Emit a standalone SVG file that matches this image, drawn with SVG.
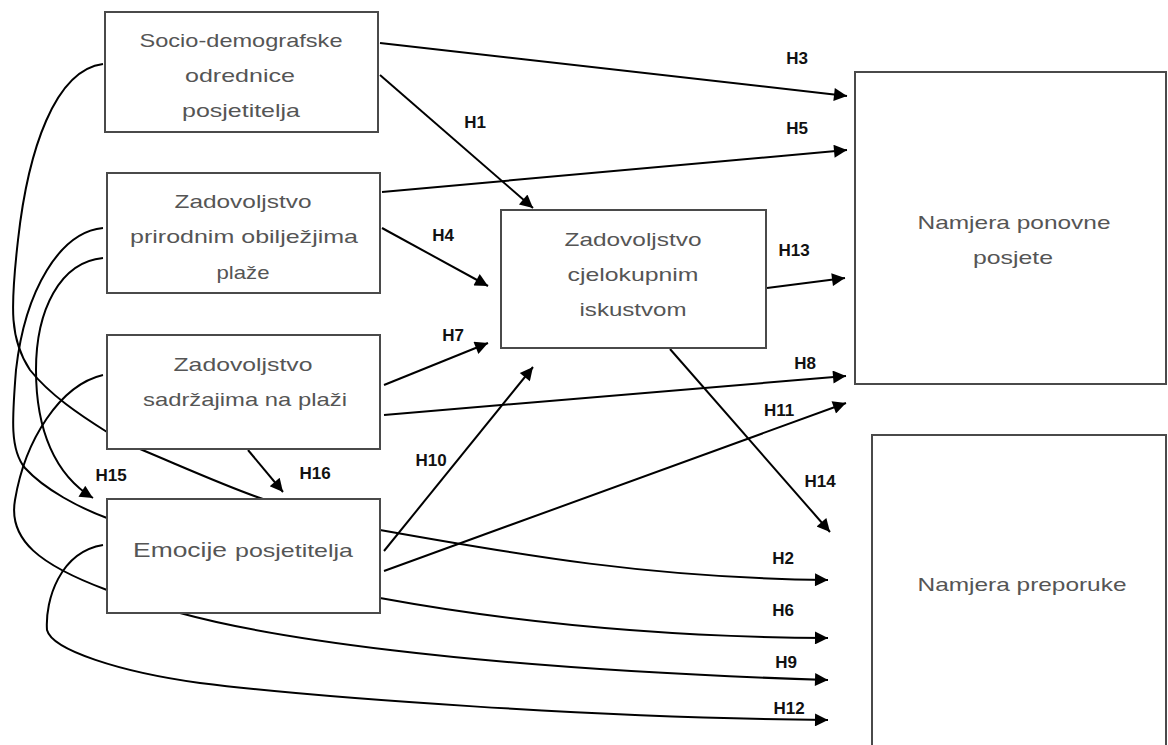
<svg xmlns="http://www.w3.org/2000/svg" width="1168" height="745" viewBox="0 0 1168 745">
<style>
.box{fill:#fff;stroke:#4a4a4a;stroke-width:2}
.t{font-family:"Liberation Sans",Arial,sans-serif;font-size:19px;fill:#555;text-anchor:middle}
.lbl{font-family:"Liberation Sans",Arial,sans-serif;font-size:17px;font-weight:bold;fill:#111;text-anchor:middle}
.c{fill:none;stroke:#000;stroke-width:2;marker-end:url(#ah)}
</style>
<defs>
<marker id="ah" viewBox="0 0 10 10" refX="10" refY="5" markerWidth="8" markerHeight="6.5" orient="auto" markerUnits="strokeWidth">
<path d="M0,0 L10,5 L0,10 z" fill="#000"/>
</marker>
</defs>
<rect width="1168" height="745" fill="#fff"/>
<g id="connectors">
<path class="c" d="M380,43 L847,96"/>
<path class="c" d="M380,75 L533,208"/>
<path class="c" d="M382,192 L847,150"/>
<path class="c" d="M382,228 L488,286"/>
<path class="c" d="M767,288 L845,278"/>
<path class="c" d="M384,385 L488,343"/>
<path class="c" d="M384,415 L846,376"/>
<path class="c" d="M384,551 L533,367"/>
<path class="c" d="M384,571 L846,403"/>
<path class="c" d="M670,349 L830,532"/>
<path class="c" d="M248,450 L283,492"/>
<path class="c" d="M103,258 C60,262 36,310 36,370 C36,430 55,475 93,498"/>
<path class="c" d="M103,64 C55,70 28,150 18,240 C10,310 10,340 30,370 C50,395 80,415 107,432 L140,449 C190,470 230,488 263,499 L380,530 C520,555 650,578 828,580"/>
<path class="c" d="M103,228 C60,232 25,290 16,370 C12,420 10,450 25,468 C45,490 80,508 107,518 L380,598 C500,620 650,637 828,638"/>
<path class="c" d="M103,375 C60,385 25,440 15,500 C8,540 40,565 107,590 L180,613 C260,635 450,668 828,680"/>
<path class="c" d="M103,545 C60,552 45,600 47,630 C52,650 120,672 200,683 C320,698 600,718 828,720"/>
</g>
<g id="n1"><rect class="box" x="105" y="12" width="273" height="120"/>
<text class="t" x="241" y="47" textLength="203" lengthAdjust="spacingAndGlyphs">Socio-demografske</text>
<text class="t" x="240" y="82" textLength="110" lengthAdjust="spacingAndGlyphs">odrednice</text>
<text class="t" x="241" y="117" textLength="118" lengthAdjust="spacingAndGlyphs">posjetitelja</text></g>
<g id="n2"><rect class="box" x="107" y="173" width="273" height="120"/>
<text class="t" x="243" y="208" textLength="137" lengthAdjust="spacingAndGlyphs">Zadovoljstvo</text>
<text class="t" x="244" y="243" textLength="228" lengthAdjust="spacingAndGlyphs">prirodnim obilježjima</text>
<text class="t" x="243" y="279" textLength="53" lengthAdjust="spacingAndGlyphs">plaže</text></g>
<g id="n3"><rect class="box" x="107" y="335" width="273" height="114"/>
<text class="t" x="243" y="371" textLength="139" lengthAdjust="spacingAndGlyphs">Zadovoljstvo</text>
<text class="t" x="245" y="406" textLength="204" lengthAdjust="spacingAndGlyphs">sadržajima na plaži</text></g>
<g id="n4"><rect class="box" x="107" y="499" width="273" height="114"/>
<text class="t" x="180" y="557" style="font-size:21px" textLength="94" lengthAdjust="spacingAndGlyphs">Emocije</text>
<text class="t" x="294" y="557" textLength="118" lengthAdjust="spacingAndGlyphs">posjetitelja</text></g>
<g id="n5"><rect class="box" x="501" y="210" width="265" height="138"/>
<text class="t" x="633" y="246" textLength="137" lengthAdjust="spacingAndGlyphs">Zadovoljstvo</text>
<text class="t" x="633" y="281" textLength="131" lengthAdjust="spacingAndGlyphs">cjelokupnim</text>
<text class="t" x="633" y="316" textLength="107" lengthAdjust="spacingAndGlyphs">iskustvom</text></g>
<g id="n6"><rect class="box" x="855" y="72" width="311" height="312"/>
<text class="t" x="1014" y="229" textLength="193" lengthAdjust="spacingAndGlyphs">Namjera ponovne</text>
<text class="t" x="1013" y="264" textLength="80" lengthAdjust="spacingAndGlyphs">posjete</text></g>
<g id="n7"><rect class="box" x="872" y="435" width="294" height="330"/>
<text class="t" x="1022" y="591" textLength="209" lengthAdjust="spacingAndGlyphs">Namjera preporuke</text></g>
<g id="labels">
<text class="lbl" x="797" y="64">H3</text>
<text class="lbl" x="797" y="134">H5</text>
<text class="lbl" x="475" y="128">H1</text>
<text class="lbl" x="443" y="241">H4</text>
<text class="lbl" x="794" y="256">H13</text>
<text class="lbl" x="453" y="341">H7</text>
<text class="lbl" x="805" y="369">H8</text>
<text class="lbl" x="779" y="416">H11</text>
<text class="lbl" x="431" y="466">H10</text>
<text class="lbl" x="820" y="487">H14</text>
<text class="lbl" x="111" y="481">H15</text>
<text class="lbl" x="315" y="479">H16</text>
<text class="lbl" x="783" y="564">H2</text>
<text class="lbl" x="783" y="616">H6</text>
<text class="lbl" x="786" y="668">H9</text>
<text class="lbl" x="789" y="714">H12</text>
</g>
</svg>
